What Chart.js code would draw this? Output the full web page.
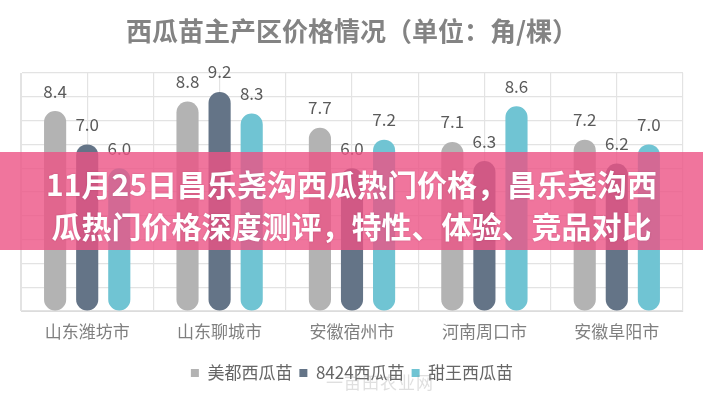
<!DOCTYPE html>
<html><head><meta charset="utf-8">
<script src="https://cdn.jsdelivr.net/npm/chart.js@4/dist/chart.umd.min.js"></script>
<style>
html,body{margin:0;padding:0;background:#fff;}
#wrap{position:relative;width:703px;height:400px;overflow:hidden;background:#fff;}
canvas{display:block;}
#banner{position:absolute;left:0;top:152px;width:703px;height:98px;background:rgba(236,82,132,0.8);box-sizing:border-box;padding-top:10px;text-align:center;color:#fff;font:bold 30px/42px "Noto Sans CJK SC";text-shadow:0 0 2px rgba(120,20,60,0.25);}
#wm{position:absolute;left:326px;top:372px;font:17px/20px "Noto Sans CJK SC";color:rgba(150,150,150,0.3);letter-spacing:1px;}
</style></head><body>
<div id="wrap">
<canvas id="c" width="703" height="400"></canvas>
<div id="wm">一亩田农业网</div>
<div id="banner">11月25日昌乐尧沟西瓜热门价格，昌乐尧沟西<br>瓜热门价格深度测评，特性、体验、竞品对比</div>
</div>
<script>
const categories = ['山东潍坊市', '山东聊城市', '安徽宿州市', '河南周口市', '安徽阜阳市'];
const seriesNames = ['美都西瓜苗', '8424西瓜苗', '甜王西瓜苗'];
const meiduValues = [8.4, 8.8, 7.7, 7.1, 7.2];
const v8424Values = [7.0, 9.2, 6.0, 6.3, 6.2];
const tianwangValues = [6.0, 8.3, 7.2, 8.6, 7.0];
const yMin = 0, yMax = 10, yStep = 1;
const titleText = '西瓜苗主产区价格情况（单位：角/棵）';

const colors = ['#b3b3b3', '#647487', '#70c4d3'];
const FONT = '"Noto Sans CJK SC", "Noto Sans", sans-serif';

const valueLabels = {
  id: 'valueLabels',
  afterDatasetsDraw(chart) {
    const ctx = chart.ctx;
    ctx.save();
    ctx.font = '17px ' + FONT;
    ctx.fillStyle = '#5a5a5a';
    ctx.textAlign = 'center';
    ctx.textBaseline = 'middle';
    chart.data.datasets.forEach((ds, i) => {
      chart.getDatasetMeta(i).data.forEach((bar, j) => {
        ctx.fillText(ds.data[j].toFixed(1), bar.x, bar.y - 20);
      });
    });
    ctx.restore();
  }
};

const seriesValues = [meiduValues, v8424Values, tianwangValues];

new Chart(document.getElementById('c'), {
  type: 'bar',
  data: {
    labels: categories,
    datasets: seriesNames.map((n, i) => ({
      label: n,
      data: seriesValues[i],
      backgroundColor: colors[i],
      borderWidth: 0,
      borderRadius: 11,
      borderSkipped: false,
      barPercentage: 0.69,
      categoryPercentage: 0.727
    }))
  },
  options: {
    responsive: false,
    animation: false,
    layout: { padding: { left: 21, right: 20, top: 8, bottom: 8.5 } },
    plugins: {
      title: {
        display: true,
        text: titleText,
        color: '#838383',
        font: { family: FONT, size: 26, weight: 'bold' },
        padding: { top: 7.4, bottom: 26.4 }
      },
      legend: {
        display: true,
        position: 'bottom',
        labels: {
          color: '#666',
          font: { family: FONT, size: 17 },
          boxWidth: 8,
          boxHeight: 8,
          padding: 7
        }
      },
      tooltip: { enabled: false }
    },
    scales: {
      x: {
        type: 'category',
        offset: true,
        grid: { display: true, offset: true, color: '#e3e3e3', lineWidth: 1.2, drawTicks: false },
        border: { display: true, color: '#dcdcdc' },
        ticks: { color: '#7f7f7f', font: { family: FONT, size: 17 }, padding: 10 },
        afterFit(s) { s.height = 46.5; }
      },
      x2: {
        type: 'category',
        labels: categories,
        position: 'bottom',
        offset: true,
        grid: { display: true, offset: false, color: '#e3e3e3', lineWidth: 1.2, drawTicks: false },
        border: { display: false },
        ticks: { display: false },
        afterFit(s) { s.height = 0; }
      },
      y: {
        min: yMin,
        max: yMax,
        ticks: { display: false, stepSize: yStep },
        grid: { color: '#e3e3e3', lineWidth: 1.2, drawTicks: false },
        border: { display: true, color: '#e3e3e3' },
        afterFit(s) { s.width = 0; }
      }
    }
  },
  plugins: [valueLabels]
});
</script>
</body></html>
